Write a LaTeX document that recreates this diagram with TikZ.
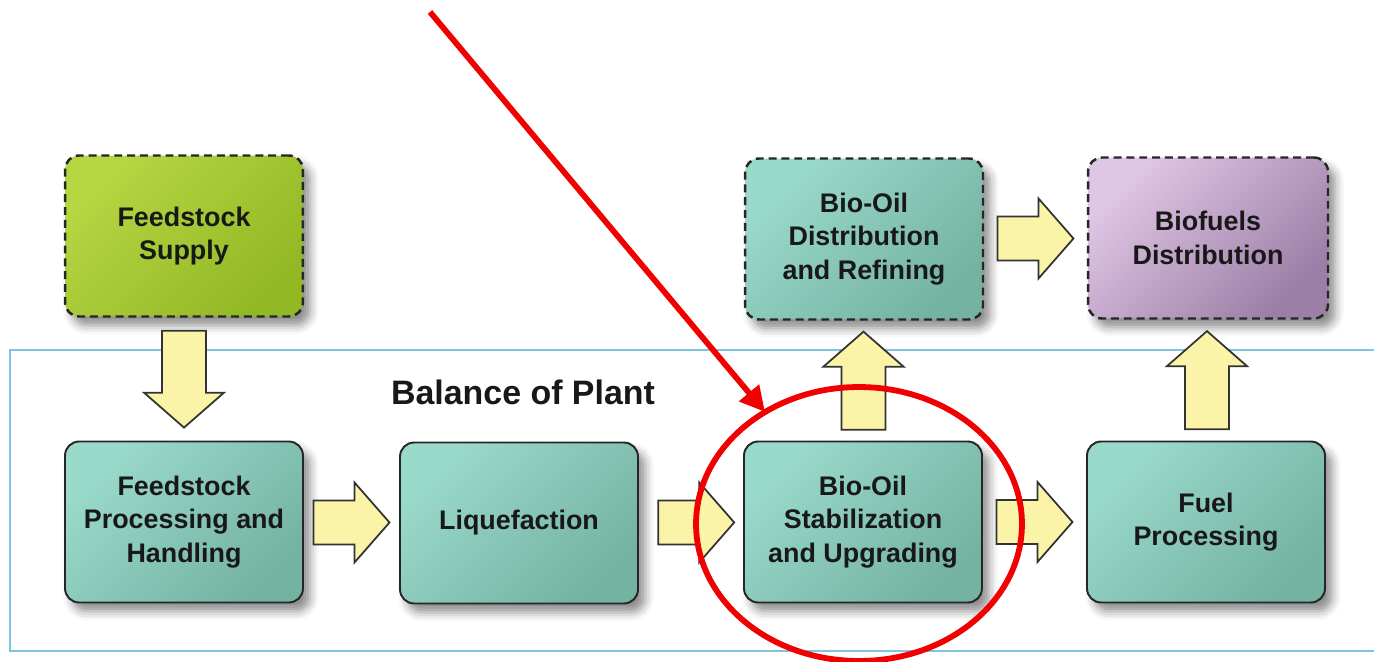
\documentclass[tikz,border=0pt]{standalone}
\usepackage{fontspec}
\setmainfont{Liberation Sans}
\usepackage{tikz}
\usetikzlibrary{arrows.meta,positioning,calc,shadows.blur}
\definecolor{tealL}{RGB}{154,218,202}
\definecolor{tealD}{RGB}{116,178,162}
\definecolor{grnL}{RGB}{182,214,66}
\definecolor{grnD}{RGB}{146,184,36}
\definecolor{purL}{RGB}{224,198,230}
\definecolor{purD}{RGB}{156,126,166}
\definecolor{sarga}{RGB}{250,243,168}
\definecolor{kek}{RGB}{128,196,226}
\definecolor{piros}{RGB}{240,0,0}
\definecolor{felirat}{RGB}{24,24,24}
\tikzset{
  unit/.style={draw=black!85,line width=1.1pt,rounded corners=8pt,minimum width=4.76cm,minimum height=3.22cm,
    align=center,text=felirat,font=\bfseries\fontsize{15.3}{19.2}\selectfont,
    top color=tealL,bottom color=tealD,shading angle=45,
    blur shadow={shadow xshift=4pt,shadow yshift=-5pt,shadow blur radius=5pt,shadow opacity=45}},
  outunit/.style={unit,line width=1.4pt,dash pattern=on 4.5pt off 2.8pt},
  blk/.style={draw=black!80,line width=1pt,fill=sarga,line join=miter},
  pointer/.style={draw=piros,line width=3.3pt,-{Triangle[length=5mm,width=5mm]}},
  ring/.style={draw=piros,line width=3.3pt},
  plant/.style={draw=kek,line width=1.2pt},
  pics/blkarrow/.style={code={
    \draw[blk] (-#1/2,-22) -- (#1/2-35,-22) -- (#1/2-35,-40) -- (#1/2,0) -- (#1/2-35,40) -- (#1/2-35,22) -- (-#1/2,22) -- cycle;}},
}

\begin{document}
\begin{tikzpicture}[x=0.02cm,y=-0.02cm]
  \useasboundingbox (0,0) rectangle (1374,662);
  \draw[plant] (10,350) rectangle (1400,651);
  \node[text=felirat,font=\bfseries\fontsize{19.3}{23}\selectfont] (bop) at (523,392) {Balance of Plant};

  \node[outunit,top color=grnL,bottom color=grnD,shading angle=45] (supply) at (184,236) {Feedstock\\Supply};
  \node[unit] (handle) at (184,522) {Feedstock\\Processing and\\Handling};
  \node[unit] (liq) at (519,523) {Liquefaction};
  \node[unit] (stab) at (863,522) {Bio-Oil\\Stabilization\\and Upgrading};
  \node[unit] (fuel) at (1206,522) {Fuel\\Processing};
  \node[outunit] (dist) at (864,239) {Bio-Oil\\Distribution\\and Refining};
  \node[outunit,top color=purL,bottom color=purD,shading angle=45,minimum width=4.8cm] (biofuel) at (1208,238) {Biofuels\\Distribution};

  \pic[rotate=-90] at ($(supply.south)!.5!(handle.north)$) {blkarrow=97};
  \pic at ($(handle.east)!.5!(liq.west)$) {blkarrow=76};
  \pic at ($(liq.east)!.55!(stab.west)$) {blkarrow=76};
  \pic at ($(stab.east)!.5!(fuel.west)$) {blkarrow=76};
  \pic at ($(dist.east)!.5!(biofuel.west)$) {blkarrow=76};
  \pic[rotate=90] at ($(stab.north)!.5!(dist.south)$) {blkarrow=98};
  \pic[rotate=90] at ($(fuel.north)!.5!(biofuel.south)$) {blkarrow=98};

  \coordinate (tail) at (430,12);
  \coordinate (tip) at (765,412);
  \draw[pointer] (tail) -- (tip);
  \draw[ring] ($(stab.center)+(-4,2)$) ellipse [x radius=3.26cm,y radius=2.74cm];
\end{tikzpicture}
\end{document}
